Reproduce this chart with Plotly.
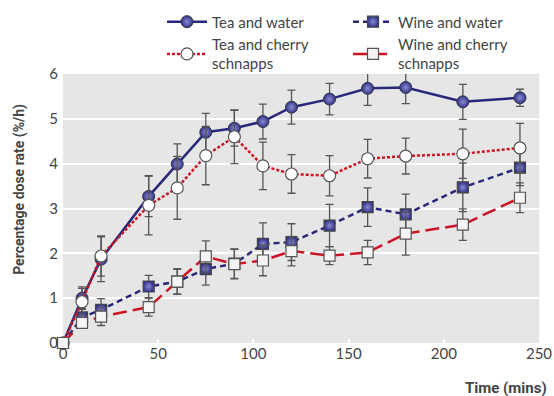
import plotly.graph_objects as go

time = [0, 10, 20, 45, 60, 75, 90, 105, 120, 140, 160, 180, 210, 240]

tea_water = [0, 1.0, 1.87, 3.27, 3.99, 4.70, 4.79, 4.94, 5.26, 5.44, 5.68, 5.70, 5.38, 5.47]
tea_water_err = [0, 0.25, 0.5, 0.45, 0.45, 0.42, 0.4, 0.39, 0.38, 0.35, 0.38, 0.36, 0.39, 0.19]

tea_cherry = [0, 0.92, 1.94, 3.07, 3.46, 4.18, 4.60, 3.95, 3.77, 3.73, 4.11, 4.17, 4.22, 4.35]
tea_cherry_err = [0, 0.3, 0.45, 0.66, 0.7, 0.65, 0.6, 0.53, 0.43, 0.45, 0.43, 0.4, 0.55, 0.55]

wine_water = [0, 0.57, 0.74, 1.26, 1.37, 1.65, 1.77, 2.21, 2.25, 2.62, 3.03, 2.87, 3.47, 3.91]
wine_water_err = [0, 0.2, 0.25, 0.25, 0.28, 0.36, 0.33, 0.47, 0.41, 0.47, 0.43, 0.45, 0.54, 0.4]

wine_cherry = [0, 0.45, 0.59, 0.80, 1.37, 1.93, 1.76, 1.84, 2.05, 1.95, 2.02, 2.44, 2.64, 3.24]
wine_cherry_err = [0, 0.1, 0.2, 0.2, 0.28, 0.35, 0.33, 0.34, 0.33, 0.2, 0.27, 0.48, 0.35, 0.33]

NAVY = "#28287a"
RED = "#cc1424"
ERR = "#555555"

def err(vals):
    return dict(type="data", array=vals, visible=True, color=ERR, thickness=1.3, width=4)

fig = go.Figure()

fig.add_trace(go.Scatter(
    x=time, y=tea_water, name="Tea and water", mode="lines+markers",
    line=dict(color=NAVY, width=2.5),
    marker=dict(symbol="circle", size=12, color="#34348c",
                gradient=dict(type="radial", color="#8a8ad0"),
                line=dict(color="#333344", width=1)),
    error_y=err(tea_water_err), cliponaxis=False))

fig.add_trace(go.Scatter(
    x=time, y=wine_water, name="Wine and water", mode="lines+markers",
    line=dict(color=NAVY, width=2.5, dash="6px,4px"),
    marker=dict(symbol="square", size=11, color="#34348c",
                gradient=dict(type="radial", color="#8a8ad0"),
                line=dict(color="#444444", width=1.2)),
    error_y=err(wine_water_err), cliponaxis=False))

fig.add_trace(go.Scatter(
    x=time, y=tea_cherry, name="Tea and cherry<br>schnapps", mode="lines+markers",
    line=dict(color=RED, width=2.5, dash="3px,2px"),
    marker=dict(symbol="circle", size=12, color="#ffffff",
                gradient=dict(type="radial", color="#ffffff"),
                line=dict(color="#555555", width=1.2)),
    error_y=err(tea_cherry_err), cliponaxis=False))

fig.add_trace(go.Scatter(
    x=time, y=wine_cherry, name="Wine and cherry<br>schnapps", mode="lines+markers",
    line=dict(color=RED, width=2.5, dash="14px,6px"),
    marker=dict(symbol="square", size=11, color="#f4f4f4",
                line=dict(color="#555555", width=1.2)),
    error_y=err(wine_cherry_err), cliponaxis=False))

fig.update_layout(
    width=554, height=396,
    margin=dict(l=63, r=15, t=74, b=53, autoexpand=False),
    paper_bgcolor="white", plot_bgcolor="#e6e6e6",
    font=dict(family="Lato, Open Sans, sans-serif", size=15, color="#444444"),
    showlegend=True,
    legend=dict(orientation="h", x=0.208, xanchor="left", y=1.255, yanchor="top",
                entrywidth=131, entrywidthmode="pixels",
                font=dict(size=15, color="#444444"), bgcolor="rgba(0,0,0,0)",
                traceorder="normal", itemwidth=40, tracegroupgap=0),
    xaxis=dict(range=[0, 250], tickvals=[0, 50, 100, 150, 200, 250],
               showgrid=False, zeroline=False, ticks="inside", ticklen=4,
               tickcolor="white", tickwidth=2, showline=False,
               tickfont=dict(size=15, color="#444444")),
    yaxis=dict(range=[0, 6], tickvals=[0, 1, 2, 3, 4, 5, 6],
               showgrid=True, gridcolor="white", gridwidth=2, zeroline=False,
               showline=False, ticks="", ticklabelstandoff=4,
               tickfont=dict(size=15, color="#444444")),
    annotations=[
        dict(text="<b>Time (mins)</b>", xref="paper", yref="paper",
             x=1.02, y=-0.125, xanchor="right", yanchor="top", showarrow=False,
             font=dict(family="Roboto, sans-serif", size=15, color="#444444")),
        dict(text="<b>Percentage dose rate (%/h)</b>", xref="paper", yref="paper",
             x=-0.09, y=0.57, xanchor="center", yanchor="middle", textangle=-90,
             showarrow=False,
             font=dict(family="Roboto, sans-serif", size=14, color="#444444")),
    ],
)

fig.write_html("out.html", config={"displayModeBar": False},
               post_script="document.body.style.margin='0';")
